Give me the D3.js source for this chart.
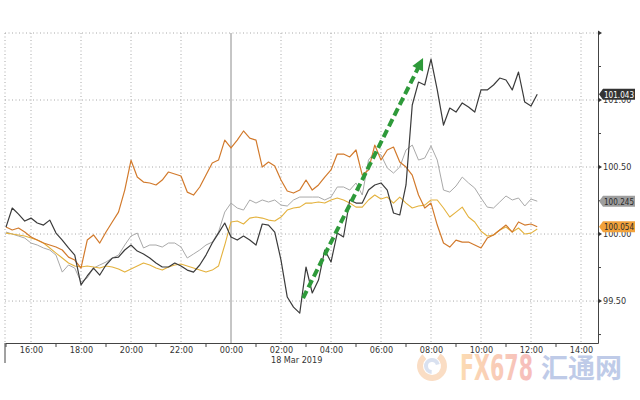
<!DOCTYPE html>
<html>
<head>
<meta charset="utf-8">
<script src="https://cdn.jsdelivr.net/npm/d3@7"></script>
<style>
body{margin:0;background:#fff;}
svg{display:block;font-family:"DejaVu Sans Condensed","DejaVu Sans",sans-serif;}
</style>
</head>
<body>
<script>
//series sampled every 15 minutes from 17 Mar 15:00
var startTime = new Date(2019, 2, 17, 15, 0);
var stepMinutes = 15;

var blackSeries = [
    100.052, 100.194, 100.149, 100.097, 100.119, 100.082, 100.067, 100.104, 100.007, 99.955,
    99.896, 99.843, 99.620, 99.687, 99.746, 99.694, 99.769, 99.821, 99.828, 99.881,
    99.918, 99.873, 99.851, 99.821, 99.784, 99.754, 99.754, 99.784, 99.761, 99.731,
    99.716, 99.769, 99.843, 99.933, 100.007, 100.082, 99.978, 99.955, 99.985, 99.955,
    99.918, 100.075, 100.067, 100.015, 99.806, 99.530, 99.455, 99.410, 99.754, 99.560,
    99.657, 99.881, 99.791, 100.007, 99.978, 100.254, 100.231, 100.231, 100.328, 100.366,
    100.381, 100.328, 100.157, 100.142, 100.366, 100.963, 101.134, 101.112, 101.305, 101.075,
    100.813, 100.940, 100.910, 100.978, 100.948, 100.910, 101.075, 101.075, 101.112, 101.164,
    101.149, 101.075, 101.209, 100.985, 100.955, 101.043
];
var graySeries = [
    100.015, 100.000, 99.985, 99.970, 99.933, 99.918, 99.896, 99.881, 99.843, 99.716,
    99.769, 99.746, 99.642, 99.672, 99.746, 99.769, 99.791, 99.821, 99.843, 99.918,
    99.985, 100.007, 99.896, 99.918, 99.918, 99.903, 99.933, 99.933, 99.903, 99.821,
    99.851, 99.881, 99.918, 99.940, 100.015, 100.164, 100.231, 100.194, 100.179, 100.254,
    100.231, 100.254, 100.239, 100.254, 100.216, 100.209, 100.254, 100.276, 100.276, 100.276,
    100.276, 100.254, 100.276, 100.351, 100.351, 100.328, 100.381, 100.291, 100.552, 100.612,
    100.590, 100.493, 100.455, 100.500, 100.627, 100.664, 100.552, 100.567, 100.657, 100.552,
    100.328, 100.313, 100.358, 100.425, 100.381, 100.343, 100.269, 100.201, 100.194, 100.239,
    100.284, 100.254, 100.269, 100.209, 100.261, 100.245
];
var orangeSeries = [
    100.052, 100.030, 100.045, 100.015, 99.978, 99.955, 99.933, 99.918, 99.903, 99.881,
    99.828, 99.806, 99.746, 99.955, 99.993, 99.933, 100.015, 100.090, 100.164, 100.328,
    100.550, 100.425, 100.388, 100.381, 100.366, 100.403, 100.463, 100.448, 100.433, 100.313,
    100.291, 100.351, 100.440, 100.530, 100.552, 100.701, 100.642, 100.701, 100.769, 100.716,
    100.701, 100.500, 100.537, 100.507, 100.403, 100.321, 100.306, 100.328, 100.403, 100.328,
    100.366, 100.425, 100.478, 100.597, 100.597, 100.575, 100.627, 100.440, 100.478, 100.664,
    100.552, 100.627, 100.649, 100.537, 100.500, 100.440, 100.291, 100.194, 100.231, 100.067,
    99.933, 99.903, 99.955, 99.940, 99.940, 99.918, 99.896, 99.970, 99.993, 100.030,
    100.067, 100.015, 100.090, 100.067, 100.075, 100.054
];
var yellowSeries = [
    100.007, 100.000, 99.993, 99.985, 99.970, 99.955, 99.933, 99.896, 99.858, 99.821,
    99.784, 99.761, 99.754, 99.761, 99.754, 99.746, 99.761, 99.754, 99.739, 99.716,
    99.739, 99.761, 99.784, 99.769, 99.746, 99.731, 99.754, 99.769, 99.776, 99.761,
    99.746, 99.731, 99.716, 99.731, 99.761, 99.918, 100.090, 100.097, 100.075, 100.119,
    100.127, 100.119, 100.104, 100.097, 100.127, 100.179, 100.194, 100.201, 100.231, 100.231,
    100.239, 100.231, 100.254, 100.269, 100.254, 100.231, 100.201, 100.201, 100.254, 100.291,
    100.261, 100.276, 100.231, 100.276, 100.231, 100.194, 100.209, 100.216, 100.254, 100.254,
    100.194, 100.127, 100.164, 100.201, 100.127, 100.090, 100.022, 99.985, 99.993, 100.030,
    100.052, 100.015, 100.045, 100.000, 100.007, 100.037
];

var yMajorTicks = [99.5, 100, 100.5, 101, 101.5];
var yLabelTicks = [99.5, 100, 100.5, 101];
var yMinorTicks = [99.25, 99.75, 100.25, 100.75, 101.25];
var dateLabel = "18 Mar 2019";

//green trend arrow, [time, value]
var arrowStart = [new Date(2019, 2, 18, 2, 53), 99.522];
var arrowEnd = [new Date(2019, 2, 18, 7, 41), 101.313];

var width = 640,
    height = 400;

var svg = d3.select("body")
    .append("svg")
    .attr("width", width)
    .attr("height", height);

svg.append("rect").attr("width", width).attr("height", height).attr("fill", "#fff");

var x = d3.scaleTime()
    .domain([new Date(2019, 2, 17, 14, 57, 36), new Date(2019, 2, 18, 14, 40, 48)])
    .range([5, 598]);

var y = d3.scaleLinear()
    .domain([99.187, 101.5])
    .range([343, 33]);

function timeAt(i){
    return new Date(startTime.getTime() + i * stepMinutes * 60000);
}

//watermark goes underneath
var wm = svg.append("g").attr("class", "watermark");
var grad = svg.append("defs").append("linearGradient").attr("id", "fxgrad");
grad.append("stop").attr("offset", "0%").attr("stop-color", "#fbc98a");
grad.append("stop").attr("offset", "100%").attr("stop-color", "#f29a9a");
var arcGen = d3.arc();
wm.append("path")
    .attr("transform", "translate(432,366)")
    .attr("d", arcGen({innerRadius: 9, outerRadius: 15, startAngle: 0.6, endAngle: 5.6}))
    .attr("fill", "#f3a96b").attr("opacity", 0.4);
wm.append("path")
    .attr("transform", "translate(432,366)")
    .attr("d", arcGen({innerRadius: 4, outerRadius: 8, startAngle: 3.2, endAngle: 7.6}))
    .attr("fill", "#9fb3d9").attr("opacity", 0.4);
wm.append("text")
    .attr("x", 460).attr("y", 380)
    .attr("textLength", 73).attr("lengthAdjust", "spacingAndGlyphs")
    .style("font-family", "'DejaVu Sans Condensed','DejaVu Sans'")
    .style("font-weight", "bold").style("font-size", "35px")
    .attr("fill", "url(#fxgrad)").attr("opacity", 0.65)
    .text("FX678");
wm.append("text")
    .attr("x", 541).attr("y", 378)
    .attr("textLength", 81).attr("lengthAdjust", "spacingAndGlyphs")
    .style("font-family", "'Noto Sans CJK SC'")
    .style("font-weight", "bold").style("font-size", "27px")
    .attr("fill", "#9db0dc").attr("opacity", 0.65)
    .text("汇通网");

//gridlines
var grid = svg.append("g").attr("class", "grid");
grid.selectAll(".hgrid")
    .data(yMajorTicks)
    .enter()
    .append("line")
    .attr("x1", 5).attr("x2", 598)
    .attr("y1", function(d){ return y(d); })
    .attr("y2", function(d){ return y(d); })
    .attr("stroke", "#a8a8a8")
    .attr("stroke-dasharray", "1,2.5");

var evenHours = x.ticks(d3.timeHour.every(2));
var oddHours = x.ticks(d3.timeHour.every(1)).filter(function(d){ return d.getHours() % 2 === 1; });

grid.selectAll(".vgrid")
    .data(evenHours.filter(function(d){ return d.getHours() !== 0; }))
    .enter()
    .append("line")
    .attr("x1", function(d){ return x(d); })
    .attr("x2", function(d){ return x(d); })
    .attr("y1", 33).attr("y2", 343)
    .attr("stroke", "#a8a8a8")
    .attr("stroke-dasharray", "1,2.5");

//left edge
grid.append("line").attr("x1", 5).attr("x2", 5).attr("y1", 33).attr("y2", 343)
    .attr("stroke", "#a8a8a8").attr("stroke-dasharray", "1,2.5");
svg.append("line").attr("x1", 5).attr("x2", 5).attr("y1", 343).attr("y2", 363)
    .attr("stroke", "#444");

//day separator
var midnight = new Date(2019, 2, 18, 0, 0);
svg.append("line")
    .attr("x1", x(midnight)).attr("x2", x(midnight))
    .attr("y1", 33).attr("y2", 343)
    .attr("stroke", "#8c8c8c");

//series lines
var line = d3.line()
    .x(function(d, i){ return x(timeAt(i)); })
    .y(function(d){ return y(d); });

var seriesList = [
    {values: graySeries, color: "#a9a9a9", w: 1},
    {values: yellowSeries, color: "#e4b23e", w: 1.1},
    {values: orangeSeries, color: "#d27a2c", w: 1.2},
    {values: blackSeries, color: "#3b3b3b", w: 1.2}
];

svg.selectAll(".series")
    .data(seriesList)
    .enter()
    .append("path")
    .attr("class", "series")
    .attr("fill", "none")
    .attr("stroke", function(d){ return d.color; })
    .attr("stroke-width", function(d){ return d.w; })
    .attr("stroke-linejoin", "round")
    .attr("d", function(d){ return line(d.values); });

//green dashed arrow
var ax1 = x(arrowStart[0]), ay1 = y(arrowStart[1]),
    ax2 = x(arrowEnd[0]), ay2 = y(arrowEnd[1]);
var ang = Math.atan2(ay2 - ay1, ax2 - ax1);
var headLen = 11;
svg.append("line")
    .attr("x1", ax1).attr("y1", ay1)
    .attr("x2", ax2 - headLen * Math.cos(ang)).attr("y2", ay2 - headLen * Math.sin(ang))
    .attr("stroke", "#2e9a3a")
    .attr("stroke-width", 4)
    .attr("stroke-dasharray", "8,4");
svg.append("path")
    .attr("d", "M0,0L-12,-6L-12,6Z")
    .attr("transform", "translate(" + ax2 + "," + ay2 + ") rotate(" + (ang * 180 / Math.PI) + ")")
    .attr("fill", "#2e9a3a");

//bottom axis
var xAxis = d3.axisBottom(x)
    .ticks(d3.timeHour.every(2))
    .tickSize(0)
    .tickPadding(4)
    .tickFormat(d3.timeFormat("%H:%M"));
var gx = svg.append("g")
    .attr("transform", "translate(0,343)")
    .call(xAxis);
gx.select(".domain").attr("stroke", "#444");
gx.selectAll("text").attr("fill", "#333").style("font-size", "9px")
    .style("font-family", "'DejaVu Sans Condensed','DejaVu Sans'");
gx.selectAll(".minor")
    .data(oddHours)
    .enter()
    .append("line")
    .attr("x1", function(d){ return x(d); })
    .attr("x2", function(d){ return x(d); })
    .attr("y1", 1).attr("y2", 4)
    .attr("stroke", "#444");

svg.append("text")
    .attr("x", x(new Date(2019, 2, 18, 2, 0)) - 10)
    .attr("y", 363)
    .attr("fill", "#333")
    .style("font-size", "9px")
    .text(dateLabel);

//right axis
var yAxis = d3.axisRight(y)
    .tickValues(yLabelTicks)
    .tickSize(0)
    .tickPadding(5)
    .tickFormat(d3.format(".2f"));
var gy = svg.append("g")
    .attr("transform", "translate(598,0)")
    .call(yAxis);
gy.select(".domain").attr("stroke", "#444");
gy.selectAll("text").attr("fill", "#333").style("font-size", "9px")
    .style("font-family", "'DejaVu Sans Condensed','DejaVu Sans'");
gy.selectAll(".arrowTick")
    .data(yMajorTicks)
    .enter()
    .append("path")
    .attr("d", function(d){ return "M0," + (y(d) - 2.5) + "L4," + y(d) + "L0," + (y(d) + 2.5) + "Z"; })
    .attr("fill", "#333");
gy.selectAll(".minorTick")
    .data(yMinorTicks)
    .enter()
    .append("line")
    .attr("x1", 0).attr("x2", 3)
    .attr("y1", function(d){ return y(d); })
    .attr("y2", function(d){ return y(d); })
    .attr("stroke", "#444");

//last value tags
var tags = [
    {value: blackSeries[blackSeries.length - 1], bg: "#333333", fg: "#ffffff"},
    {value: graySeries[graySeries.length - 1], bg: "#9e9e9e", fg: "#2a2a2a"},
    {value: orangeSeries[orangeSeries.length - 1], bg: "#f2a23b", fg: "#2a2a2a"}
];
var tag = svg.selectAll(".tag")
    .data(tags)
    .enter()
    .append("g")
    .attr("class", "tag")
    .attr("transform", function(d){ return "translate(599," + y(d.value) + ")"; });
tag.append("path")
    .attr("d", "M0,0L4,-5.5L36,-5.5L36,5.5L4,5.5Z")
    .attr("fill", function(d){ return d.bg; });
tag.append("text")
    .attr("x", 5)
    .attr("y", 3.3)
    .attr("textLength", 30)
    .attr("lengthAdjust", "spacingAndGlyphs")
    .style("font-size", "9px")
    .attr("fill", function(d){ return d.fg; })
    .text(function(d){ return d3.format(".3f")(d.value); });
</script>
</body>
</html>
